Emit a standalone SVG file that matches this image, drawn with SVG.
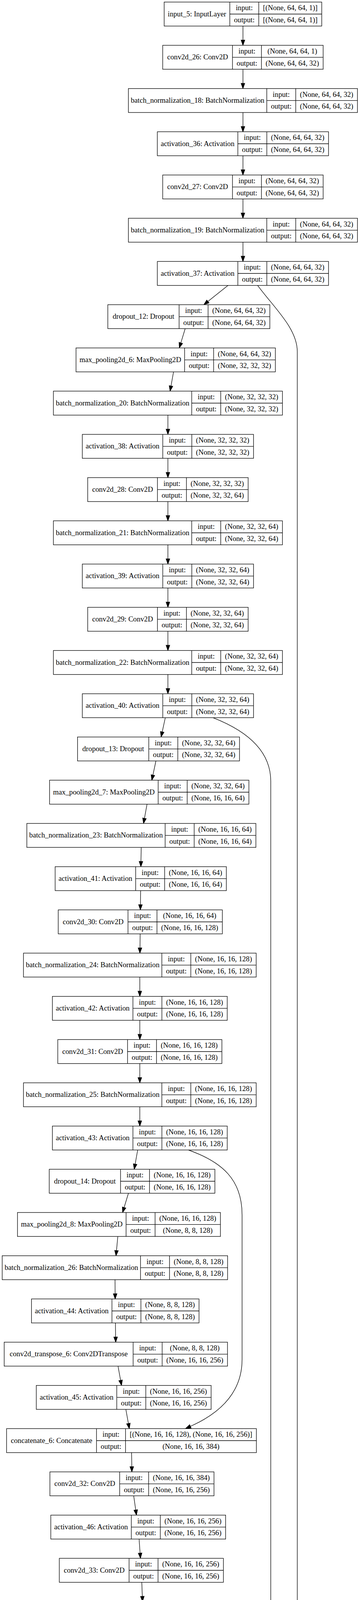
<svg xmlns="http://www.w3.org/2000/svg" width="933" height="6160" viewBox="0 0 933 6160">
<style>
.node rect{fill:#fff;stroke:#000;stroke-width:1.33}
.node path{fill:none;stroke:#000;stroke-width:1.33}
.node text{font-family:"Liberation Serif","Times New Roman",serif;font-size:18.67px;text-anchor:middle;fill:#000}
.edges path{fill:none;stroke:#000;stroke-width:1.33;marker-end:url(#ah)}
</style>
<defs>
<marker id="ah" viewBox="0 -6 15 12" refX="0" refY="0" markerWidth="15" markerHeight="12" orient="auto" markerUnits="userSpaceOnUse" overflow="visible">
<path d="M0,-4.67L13.33,0L0,4.67Z" fill="#000" stroke="#000" stroke-width="1.33"/>
</marker>
</defs>
<rect x="0" y="0" width="933" height="6160" fill="#fff"/>
<g id="edges" class="edges">
<path d="M622.7,66.67L622.7,102.67"/>
<path d="M622.7,177.33L622.7,213.33"/>
<path d="M622.7,288L622.7,324"/>
<path d="M622.7,398.67L622.7,434.67"/>
<path d="M622.7,509.33L622.7,545.33"/>
<path d="M622.7,620L622.7,656"/>
<path d="M584.3,730.7L532.9,771.7"/>
<path d="M474.7,841.3L463.5,877.9"/>
<path d="M444.8,952L438.3,988.2"/>
<path d="M430.4,1062.67L430.4,1098.67"/>
<path d="M430.4,1173.33L430.4,1209.33"/>
<path d="M430.4,1284L430.4,1320"/>
<path d="M430.4,1394.67L430.4,1430.67"/>
<path d="M430.4,1505.33L430.4,1541.33"/>
<path d="M430.4,1616L430.4,1652"/>
<path d="M430.4,1726.67L430.4,1762.67"/>
<path d="M423.7,1837.3L415.8,1873.6"/>
<path d="M399.7,1948L391.9,1984.3"/>
<path d="M376.9,2058.7L370.3,2094.9"/>
<path d="M361.9,2169.3L361.3,2205.3"/>
<path d="M360.5,2280L360,2316"/>
<path d="M359.3,2390.7L358.8,2426.7"/>
<path d="M358.4,2501.33L358.4,2537.33"/>
<path d="M358.4,2612L358.4,2648"/>
<path d="M358.4,2722.67L358.4,2758.67"/>
<path d="M358.4,2833.33L358.4,2869.33"/>
<path d="M352.9,2944L346.4,2980.2"/>
<path d="M329.2,3054.7L318.1,3091.3"/>
<path d="M302,3165.3L298.6,3201.4"/>
<path d="M294.8,3276L295.1,3312"/>
<path d="M295.8,3386.7L296.4,3422.7"/>
<path d="M302.5,3497.3L309.1,3533.6"/>
<path d="M322.6,3608L329.1,3644.2"/>
<path d="M337.3,3718.7L337.8,3754.7"/>
<path d="M342.7,3829.3L347.9,3865.5"/>
<path d="M356.5,3940L359.1,3976"/>
<path d="M363.4,4050.7L364.8,4086.7"/>
<path d="M367.1,4161.3L367.8,4197.3"/>
<path d="M369.2,4272L369.8,4308"/>
<path d="M375.8,4382.7L382.4,4418.9"/>
<path d="M395.6,4493.3L401.8,4529.5"/>
<path d="M413.4,4604L418.1,4640.1"/>
<path d="M425.7,4714.7L427.8,4750.7"/>
<path d="M431.5,4825.3L432.8,4861.3"/>
<path d="M434.6,4936L435.1,4972"/>
<path d="M435.8,5046.7L436.2,5082.7"/>
<path d="M437.1,5157.3L437.8,5193.3"/>
<path d="M447.7,5268L458.8,5304.6"/>
<path d="M512.2,5378.7L566.3,5419.9"/>
<path d="M617.1,5489.33L617.1,5525.33"/>
<path d="M617.1,5600L617.1,5636"/>
<path d="M617.1,5710.67L617.1,5746.67"/>
<path d="M617.1,5821.33L617.1,5857.33"/>
<path d="M617.1,5932L617.1,5968"/>
<path d="M617.1,6042.67L617.1,6078.67"/>
<path d="M660.3,730.7C700,785 762,840 762,900L762,5250C762,5320 718,5365 670.6,5417.7"/>
<path d="M546.1,1837.3C630,1870 694,1920 694,2000L694,4370C694,4440 640,4500 561.8,4536"/>
<path d="M483,2944C570,2975 620.5,3020 620.5,3110L620.5,3480C620.5,3560 570,3615 488,3651.5"/>
</g>
<g id="n0" class="node" transform="translate(420.75,5.33)"><rect width="403.9" height="61.33"/><path d="M168.3,0V61.33M242.6,0V61.33M168.3,30.67H403.9"/><text x="84.15" y="36.3">input_5: InputLayer</text><text x="205.45" y="20.9">input:</text><text x="205.45" y="51.6">output:</text><text x="323.25" y="20.9">[(None, 64, 64, 1)]</text><text x="323.25" y="51.6">[(None, 64, 64, 1)]</text></g>
<g id="n1" class="node" transform="translate(417.05,116)"><rect width="411.3" height="61.33"/><path d="M178.8,0V61.33M253.1,0V61.33M178.8,30.67H411.3"/><text x="89.4" y="36.3">conv2d_26: Conv2D</text><text x="215.95" y="20.9">input:</text><text x="215.95" y="51.6">output:</text><text x="332.2" y="20.9">(None, 64, 64, 1)</text><text x="332.2" y="51.6">(None, 64, 64, 32)</text></g>
<g id="n2" class="node" transform="translate(329.15,226.67)"><rect width="587.1" height="61.33"/><path d="M354.6,0V61.33M428.9,0V61.33M354.6,30.67H587.1"/><text x="177.3" y="36.3">batch_normalization_18: BatchNormalization</text><text x="391.75" y="20.9">input:</text><text x="391.75" y="51.6">output:</text><text x="508" y="20.9">(None, 64, 64, 32)</text><text x="508" y="51.6">(None, 64, 64, 32)</text></g>
<g id="n3" class="node" transform="translate(403.3,337.33)"><rect width="438.8" height="61.33"/><path d="M206.3,0V61.33M280.6,0V61.33M206.3,30.67H438.8"/><text x="103.15" y="36.3">activation_36: Activation</text><text x="243.45" y="20.9">input:</text><text x="243.45" y="51.6">output:</text><text x="359.7" y="20.9">(None, 64, 64, 32)</text><text x="359.7" y="51.6">(None, 64, 64, 32)</text></g>
<g id="n4" class="node" transform="translate(417.05,448)"><rect width="411.3" height="61.33"/><path d="M178.8,0V61.33M253.1,0V61.33M178.8,30.67H411.3"/><text x="89.4" y="36.3">conv2d_27: Conv2D</text><text x="215.95" y="20.9">input:</text><text x="215.95" y="51.6">output:</text><text x="332.2" y="20.9">(None, 64, 64, 32)</text><text x="332.2" y="51.6">(None, 64, 64, 32)</text></g>
<g id="n5" class="node" transform="translate(329.15,558.67)"><rect width="587.1" height="61.33"/><path d="M354.6,0V61.33M428.9,0V61.33M354.6,30.67H587.1"/><text x="177.3" y="36.3">batch_normalization_19: BatchNormalization</text><text x="391.75" y="20.9">input:</text><text x="391.75" y="51.6">output:</text><text x="508" y="20.9">(None, 64, 64, 32)</text><text x="508" y="51.6">(None, 64, 64, 32)</text></g>
<g id="n6" class="node" transform="translate(403.3,669.33)"><rect width="438.8" height="61.33"/><path d="M206.3,0V61.33M280.6,0V61.33M206.3,30.67H438.8"/><text x="103.15" y="36.3">activation_37: Activation</text><text x="243.45" y="20.9">input:</text><text x="243.45" y="51.6">output:</text><text x="359.7" y="20.9">(None, 64, 64, 32)</text><text x="359.7" y="51.6">(None, 64, 64, 32)</text></g>
<g id="n7" class="node" transform="translate(276.4,780)"><rect width="415.2" height="61.33"/><path d="M182.7,0V61.33M257,0V61.33M182.7,30.67H415.2"/><text x="91.35" y="36.3">dropout_12: Dropout</text><text x="219.85" y="20.9">input:</text><text x="219.85" y="51.6">output:</text><text x="336.1" y="20.9">(None, 64, 64, 32)</text><text x="336.1" y="51.6">(None, 64, 64, 32)</text></g>
<g id="n8" class="node" transform="translate(194.85,890.67)"><rect width="510.9" height="61.33"/><path d="M278.4,0V61.33M352.7,0V61.33M278.4,30.67H510.9"/><text x="139.2" y="36.3">max_pooling2d_6: MaxPooling2D</text><text x="315.55" y="20.9">input:</text><text x="315.55" y="51.6">output:</text><text x="431.8" y="20.9">(None, 64, 64, 32)</text><text x="431.8" y="51.6">(None, 32, 32, 32)</text></g>
<g id="n9" class="node" transform="translate(136.85,1001.33)"><rect width="587.1" height="61.33"/><path d="M354.6,0V61.33M428.9,0V61.33M354.6,30.67H587.1"/><text x="177.3" y="36.3">batch_normalization_20: BatchNormalization</text><text x="391.75" y="20.9">input:</text><text x="391.75" y="51.6">output:</text><text x="508" y="20.9">(None, 32, 32, 32)</text><text x="508" y="51.6">(None, 32, 32, 32)</text></g>
<g id="n10" class="node" transform="translate(211,1112)"><rect width="438.8" height="61.33"/><path d="M206.3,0V61.33M280.6,0V61.33M206.3,30.67H438.8"/><text x="103.15" y="36.3">activation_38: Activation</text><text x="243.45" y="20.9">input:</text><text x="243.45" y="51.6">output:</text><text x="359.7" y="20.9">(None, 32, 32, 32)</text><text x="359.7" y="51.6">(None, 32, 32, 32)</text></g>
<g id="n11" class="node" transform="translate(224.75,1222.67)"><rect width="411.3" height="61.33"/><path d="M178.8,0V61.33M253.1,0V61.33M178.8,30.67H411.3"/><text x="89.4" y="36.3">conv2d_28: Conv2D</text><text x="215.95" y="20.9">input:</text><text x="215.95" y="51.6">output:</text><text x="332.2" y="20.9">(None, 32, 32, 32)</text><text x="332.2" y="51.6">(None, 32, 32, 64)</text></g>
<g id="n12" class="node" transform="translate(136.85,1333.33)"><rect width="587.1" height="61.33"/><path d="M354.6,0V61.33M428.9,0V61.33M354.6,30.67H587.1"/><text x="177.3" y="36.3">batch_normalization_21: BatchNormalization</text><text x="391.75" y="20.9">input:</text><text x="391.75" y="51.6">output:</text><text x="508" y="20.9">(None, 32, 32, 64)</text><text x="508" y="51.6">(None, 32, 32, 64)</text></g>
<g id="n13" class="node" transform="translate(211,1444)"><rect width="438.8" height="61.33"/><path d="M206.3,0V61.33M280.6,0V61.33M206.3,30.67H438.8"/><text x="103.15" y="36.3">activation_39: Activation</text><text x="243.45" y="20.9">input:</text><text x="243.45" y="51.6">output:</text><text x="359.7" y="20.9">(None, 32, 32, 64)</text><text x="359.7" y="51.6">(None, 32, 32, 64)</text></g>
<g id="n14" class="node" transform="translate(224.75,1554.67)"><rect width="411.3" height="61.33"/><path d="M178.8,0V61.33M253.1,0V61.33M178.8,30.67H411.3"/><text x="89.4" y="36.3">conv2d_29: Conv2D</text><text x="215.95" y="20.9">input:</text><text x="215.95" y="51.6">output:</text><text x="332.2" y="20.9">(None, 32, 32, 64)</text><text x="332.2" y="51.6">(None, 32, 32, 64)</text></g>
<g id="n15" class="node" transform="translate(136.85,1665.33)"><rect width="587.1" height="61.33"/><path d="M354.6,0V61.33M428.9,0V61.33M354.6,30.67H587.1"/><text x="177.3" y="36.3">batch_normalization_22: BatchNormalization</text><text x="391.75" y="20.9">input:</text><text x="391.75" y="51.6">output:</text><text x="508" y="20.9">(None, 32, 32, 64)</text><text x="508" y="51.6">(None, 32, 32, 64)</text></g>
<g id="n16" class="node" transform="translate(211,1776)"><rect width="438.8" height="61.33"/><path d="M206.3,0V61.33M280.6,0V61.33M206.3,30.67H438.8"/><text x="103.15" y="36.3">activation_40: Activation</text><text x="243.45" y="20.9">input:</text><text x="243.45" y="51.6">output:</text><text x="359.7" y="20.9">(None, 32, 32, 64)</text><text x="359.7" y="51.6">(None, 32, 32, 64)</text></g>
<g id="n17" class="node" transform="translate(198.7,1886.67)"><rect width="415.2" height="61.33"/><path d="M182.7,0V61.33M257,0V61.33M182.7,30.67H415.2"/><text x="91.35" y="36.3">dropout_13: Dropout</text><text x="219.85" y="20.9">input:</text><text x="219.85" y="51.6">output:</text><text x="336.1" y="20.9">(None, 32, 32, 64)</text><text x="336.1" y="51.6">(None, 32, 32, 64)</text></g>
<g id="n18" class="node" transform="translate(127.05,1997.33)"><rect width="510.9" height="61.33"/><path d="M278.4,0V61.33M352.7,0V61.33M278.4,30.67H510.9"/><text x="139.2" y="36.3">max_pooling2d_7: MaxPooling2D</text><text x="315.55" y="20.9">input:</text><text x="315.55" y="51.6">output:</text><text x="431.8" y="20.9">(None, 32, 32, 64)</text><text x="431.8" y="51.6">(None, 16, 16, 64)</text></g>
<g id="n19" class="node" transform="translate(68.75,2108)"><rect width="587.1" height="61.33"/><path d="M354.6,0V61.33M428.9,0V61.33M354.6,30.67H587.1"/><text x="177.3" y="36.3">batch_normalization_23: BatchNormalization</text><text x="391.75" y="20.9">input:</text><text x="391.75" y="51.6">output:</text><text x="508" y="20.9">(None, 16, 16, 64)</text><text x="508" y="51.6">(None, 16, 16, 64)</text></g>
<g id="n20" class="node" transform="translate(141.4,2218.67)"><rect width="438.8" height="61.33"/><path d="M206.3,0V61.33M280.6,0V61.33M206.3,30.67H438.8"/><text x="103.15" y="36.3">activation_41: Activation</text><text x="243.45" y="20.9">input:</text><text x="243.45" y="51.6">output:</text><text x="359.7" y="20.9">(None, 16, 16, 64)</text><text x="359.7" y="51.6">(None, 16, 16, 64)</text></g>
<g id="n21" class="node" transform="translate(149.3,2329.33)"><rect width="420.6" height="61.33"/><path d="M178.8,0V61.33M253.1,0V61.33M178.8,30.67H420.6"/><text x="89.4" y="36.3">conv2d_30: Conv2D</text><text x="215.95" y="20.9">input:</text><text x="215.95" y="51.6">output:</text><text x="336.85" y="20.9">(None, 16, 16, 64)</text><text x="336.85" y="51.6">(None, 16, 16, 128)</text></g>
<g id="n22" class="node" transform="translate(60.2,2440)"><rect width="596.4" height="61.33"/><path d="M354.6,0V61.33M428.9,0V61.33M354.6,30.67H596.4"/><text x="177.3" y="36.3">batch_normalization_24: BatchNormalization</text><text x="391.75" y="20.9">input:</text><text x="391.75" y="51.6">output:</text><text x="512.65" y="20.9">(None, 16, 16, 128)</text><text x="512.65" y="51.6">(None, 16, 16, 128)</text></g>
<g id="n23" class="node" transform="translate(134.35,2550.67)"><rect width="448.1" height="61.33"/><path d="M206.3,0V61.33M280.6,0V61.33M206.3,30.67H448.1"/><text x="103.15" y="36.3">activation_42: Activation</text><text x="243.45" y="20.9">input:</text><text x="243.45" y="51.6">output:</text><text x="364.35" y="20.9">(None, 16, 16, 128)</text><text x="364.35" y="51.6">(None, 16, 16, 128)</text></g>
<g id="n24" class="node" transform="translate(148.1,2661.33)"><rect width="420.6" height="61.33"/><path d="M178.8,0V61.33M253.1,0V61.33M178.8,30.67H420.6"/><text x="89.4" y="36.3">conv2d_31: Conv2D</text><text x="215.95" y="20.9">input:</text><text x="215.95" y="51.6">output:</text><text x="336.85" y="20.9">(None, 16, 16, 128)</text><text x="336.85" y="51.6">(None, 16, 16, 128)</text></g>
<g id="n25" class="node" transform="translate(60.2,2772)"><rect width="596.4" height="61.33"/><path d="M354.6,0V61.33M428.9,0V61.33M354.6,30.67H596.4"/><text x="177.3" y="36.3">batch_normalization_25: BatchNormalization</text><text x="391.75" y="20.9">input:</text><text x="391.75" y="51.6">output:</text><text x="512.65" y="20.9">(None, 16, 16, 128)</text><text x="512.65" y="51.6">(None, 16, 16, 128)</text></g>
<g id="n26" class="node" transform="translate(134.35,2882.67)"><rect width="448.1" height="61.33"/><path d="M206.3,0V61.33M280.6,0V61.33M206.3,30.67H448.1"/><text x="103.15" y="36.3">activation_43: Activation</text><text x="243.45" y="20.9">input:</text><text x="243.45" y="51.6">output:</text><text x="364.35" y="20.9">(None, 16, 16, 128)</text><text x="364.35" y="51.6">(None, 16, 16, 128)</text></g>
<g id="n27" class="node" transform="translate(126.25,2993.33)"><rect width="424.5" height="61.33"/><path d="M182.7,0V61.33M257,0V61.33M182.7,30.67H424.5"/><text x="91.35" y="36.3">dropout_14: Dropout</text><text x="219.85" y="20.9">input:</text><text x="219.85" y="51.6">output:</text><text x="340.75" y="20.9">(None, 16, 16, 128)</text><text x="340.75" y="51.6">(None, 16, 16, 128)</text></g>
<g id="n28" class="node" transform="translate(44.8,3104)"><rect width="520.2" height="61.33"/><path d="M278.4,0V61.33M352.7,0V61.33M278.4,30.67H520.2"/><text x="139.2" y="36.3">max_pooling2d_8: MaxPooling2D</text><text x="315.55" y="20.9">input:</text><text x="315.55" y="51.6">output:</text><text x="436.45" y="20.9">(None, 16, 16, 128)</text><text x="436.45" y="51.6">(None, 8, 8, 128)</text></g>
<g id="n29" class="node" transform="translate(5.6,3214.67)"><rect width="577.8" height="61.33"/><path d="M354.6,0V61.33M428.9,0V61.33M354.6,30.67H577.8"/><text x="177.3" y="36.3">batch_normalization_26: BatchNormalization</text><text x="391.75" y="20.9">input:</text><text x="391.75" y="51.6">output:</text><text x="503.35" y="20.9">(None, 8, 8, 128)</text><text x="503.35" y="51.6">(None, 8, 8, 128)</text></g>
<g id="n30" class="node" transform="translate(80.65,3325.33)"><rect width="429.5" height="61.33"/><path d="M206.3,0V61.33M280.6,0V61.33M206.3,30.67H429.5"/><text x="103.15" y="36.3">activation_44: Activation</text><text x="243.45" y="20.9">input:</text><text x="243.45" y="51.6">output:</text><text x="355.05" y="20.9">(None, 8, 8, 128)</text><text x="355.05" y="51.6">(None, 8, 8, 128)</text></g>
<g id="n31" class="node" transform="translate(10.7,3436)"><rect width="572.4" height="61.33"/><path d="M330.6,0V61.33M404.9,0V61.33M330.6,30.67H572.4"/><text x="165.3" y="36.3">conv2d_transpose_6: Conv2DTranspose</text><text x="367.75" y="20.9">input:</text><text x="367.75" y="51.6">output:</text><text x="488.65" y="20.9">(None, 8, 8, 128)</text><text x="488.65" y="51.6">(None, 16, 16, 256)</text></g>
<g id="n32" class="node" transform="translate(93.05,3546.67)"><rect width="448.1" height="61.33"/><path d="M206.3,0V61.33M280.6,0V61.33M206.3,30.67H448.1"/><text x="103.15" y="36.3">activation_45: Activation</text><text x="243.45" y="20.9">input:</text><text x="243.45" y="51.6">output:</text><text x="364.35" y="20.9">(None, 16, 16, 256)</text><text x="364.35" y="51.6">(None, 16, 16, 256)</text></g>
<g id="n33" class="node" transform="translate(16.8,3657.33)"><rect width="640.4" height="61.33"/><path d="M230.6,0V61.33M304.9,0V61.33M230.6,30.67H640.4"/><text x="115.3" y="36.3">concatenate_6: Concatenate</text><text x="267.75" y="20.9">input:</text><text x="267.75" y="51.6">output:</text><text x="472.65" y="20.9">[(None, 16, 16, 128), (None, 16, 16, 256)]</text><text x="472.65" y="51.6">(None, 16, 16, 384)</text></g>
<g id="n34" class="node" transform="translate(127.9,3768)"><rect width="420.6" height="61.33"/><path d="M178.8,0V61.33M253.1,0V61.33M178.8,30.67H420.6"/><text x="89.4" y="36.3">conv2d_32: Conv2D</text><text x="215.95" y="20.9">input:</text><text x="215.95" y="51.6">output:</text><text x="336.85" y="20.9">(None, 16, 16, 384)</text><text x="336.85" y="51.6">(None, 16, 16, 256)</text></g>
<g id="n35" class="node" transform="translate(130.25,3878.67)"><rect width="448.1" height="61.33"/><path d="M206.3,0V61.33M280.6,0V61.33M206.3,30.67H448.1"/><text x="103.15" y="36.3">activation_46: Activation</text><text x="243.45" y="20.9">input:</text><text x="243.45" y="51.6">output:</text><text x="364.35" y="20.9">(None, 16, 16, 256)</text><text x="364.35" y="51.6">(None, 16, 16, 256)</text></g>
<g id="n36" class="node" transform="translate(152,3989.33)"><rect width="420.6" height="61.33"/><path d="M178.8,0V61.33M253.1,0V61.33M178.8,30.67H420.6"/><text x="89.4" y="36.3">conv2d_33: Conv2D</text><text x="215.95" y="20.9">input:</text><text x="215.95" y="51.6">output:</text><text x="336.85" y="20.9">(None, 16, 16, 256)</text><text x="336.85" y="51.6">(None, 16, 16, 256)</text></g>
<g id="n37" class="node" transform="translate(142.35,4100)"><rect width="448.1" height="61.33"/><path d="M206.3,0V61.33M280.6,0V61.33M206.3,30.67H448.1"/><text x="103.15" y="36.3">activation_47: Activation</text><text x="243.45" y="20.9">input:</text><text x="243.45" y="51.6">output:</text><text x="364.35" y="20.9">(None, 16, 16, 256)</text><text x="364.35" y="51.6">(None, 16, 16, 256)</text></g>
<g id="n38" class="node" transform="translate(156.55,4210.67)"><rect width="424.5" height="61.33"/><path d="M182.7,0V61.33M257,0V61.33M182.7,30.67H424.5"/><text x="91.35" y="36.3">dropout_15: Dropout</text><text x="219.85" y="20.9">input:</text><text x="219.85" y="51.6">output:</text><text x="340.75" y="20.9">(None, 16, 16, 256)</text><text x="340.75" y="51.6">(None, 16, 16, 256)</text></g>
<g id="n39" class="node" transform="translate(84.1,4321.33)"><rect width="572.4" height="61.33"/><path d="M330.6,0V61.33M404.9,0V61.33M330.6,30.67H572.4"/><text x="165.3" y="36.3">conv2d_transpose_7: Conv2DTranspose</text><text x="367.75" y="20.9">input:</text><text x="367.75" y="51.6">output:</text><text x="488.65" y="20.9">(None, 16, 16, 256)</text><text x="488.65" y="51.6">(None, 32, 32, 128)</text></g>
<g id="n40" class="node" transform="translate(166.25,4432)"><rect width="448.1" height="61.33"/><path d="M206.3,0V61.33M280.6,0V61.33M206.3,30.67H448.1"/><text x="103.15" y="36.3">activation_48: Activation</text><text x="243.45" y="20.9">input:</text><text x="243.45" y="51.6">output:</text><text x="364.35" y="20.9">(None, 32, 32, 128)</text><text x="364.35" y="51.6">(None, 32, 32, 128)</text></g>
<g id="n41" class="node" transform="translate(93.75,4542.67)"><rect width="631.1" height="61.33"/><path d="M230.6,0V61.33M304.9,0V61.33M230.6,30.67H631.1"/><text x="115.3" y="36.3">concatenate_7: Concatenate</text><text x="267.75" y="20.9">input:</text><text x="267.75" y="51.6">output:</text><text x="468" y="20.9">[(None, 32, 32, 64), (None, 32, 32, 128)]</text><text x="468" y="51.6">(None, 32, 32, 192)</text></g>
<g id="n42" class="node" transform="translate(213.6,4653.33)"><rect width="420.6" height="61.33"/><path d="M178.8,0V61.33M253.1,0V61.33M178.8,30.67H420.6"/><text x="89.4" y="36.3">conv2d_34: Conv2D</text><text x="215.95" y="20.9">input:</text><text x="215.95" y="51.6">output:</text><text x="336.85" y="20.9">(None, 32, 32, 192)</text><text x="336.85" y="51.6">(None, 32, 32, 128)</text></g>
<g id="n43" class="node" transform="translate(206.35,4764)"><rect width="448.1" height="61.33"/><path d="M206.3,0V61.33M280.6,0V61.33M206.3,30.67H448.1"/><text x="103.15" y="36.3">activation_49: Activation</text><text x="243.45" y="20.9">input:</text><text x="243.45" y="51.6">output:</text><text x="364.35" y="20.9">(None, 32, 32, 128)</text><text x="364.35" y="51.6">(None, 32, 32, 128)</text></g>
<g id="n44" class="node" transform="translate(224,4874.67)"><rect width="420.6" height="61.33"/><path d="M178.8,0V61.33M253.1,0V61.33M178.8,30.67H420.6"/><text x="89.4" y="36.3">conv2d_35: Conv2D</text><text x="215.95" y="20.9">input:</text><text x="215.95" y="51.6">output:</text><text x="336.85" y="20.9">(None, 32, 32, 128)</text><text x="336.85" y="51.6">(None, 32, 32, 128)</text></g>
<g id="n45" class="node" transform="translate(211.45,4985.33)"><rect width="448.1" height="61.33"/><path d="M206.3,0V61.33M280.6,0V61.33M206.3,30.67H448.1"/><text x="103.15" y="36.3">activation_50: Activation</text><text x="243.45" y="20.9">input:</text><text x="243.45" y="51.6">output:</text><text x="364.35" y="20.9">(None, 32, 32, 128)</text><text x="364.35" y="51.6">(None, 32, 32, 128)</text></g>
<g id="n46" class="node" transform="translate(224.35,5096)"><rect width="424.5" height="61.33"/><path d="M182.7,0V61.33M257,0V61.33M182.7,30.67H424.5"/><text x="91.35" y="36.3">dropout_16: Dropout</text><text x="219.85" y="20.9">input:</text><text x="219.85" y="51.6">output:</text><text x="340.75" y="20.9">(None, 32, 32, 128)</text><text x="340.75" y="51.6">(None, 32, 32, 128)</text></g>
<g id="n47" class="node" transform="translate(152.2,5206.67)"><rect width="572.4" height="61.33"/><path d="M330.6,0V61.33M404.9,0V61.33M330.6,30.67H572.4"/><text x="165.3" y="36.3">conv2d_transpose_8: Conv2DTranspose</text><text x="367.75" y="20.9">input:</text><text x="367.75" y="51.6">output:</text><text x="488.65" y="20.9">(None, 32, 32, 128)</text><text x="488.65" y="51.6">(None, 64, 64, 64)</text></g>
<g id="n48" class="node" transform="translate(252.6,5317.33)"><rect width="438.8" height="61.33"/><path d="M206.3,0V61.33M280.6,0V61.33M206.3,30.67H438.8"/><text x="103.15" y="36.3">activation_51: Activation</text><text x="243.45" y="20.9">input:</text><text x="243.45" y="51.6">output:</text><text x="359.7" y="20.9">(None, 64, 64, 64)</text><text x="359.7" y="51.6">(None, 64, 64, 64)</text></g>
<g id="n49" class="node" transform="translate(306.35,5428)"><rect width="621.7" height="61.33"/><path d="M230.6,0V61.33M304.9,0V61.33M230.6,30.67H621.7"/><text x="115.3" y="36.3">concatenate_8: Concatenate</text><text x="267.75" y="20.9">input:</text><text x="267.75" y="51.6">output:</text><text x="463.3" y="20.9">[(None, 64, 64, 32), (None, 64, 64, 64)]</text><text x="463.3" y="51.6">(None, 64, 64, 96)</text></g>
<g id="n50" class="node" transform="translate(411.45,5538.67)"><rect width="411.3" height="61.33"/><path d="M178.8,0V61.33M253.1,0V61.33M178.8,30.67H411.3"/><text x="89.4" y="36.3">conv2d_36: Conv2D</text><text x="215.95" y="20.9">input:</text><text x="215.95" y="51.6">output:</text><text x="332.2" y="20.9">(None, 64, 64, 96)</text><text x="332.2" y="51.6">(None, 64, 64, 64)</text></g>
<g id="n51" class="node" transform="translate(397.7,5649.33)"><rect width="438.8" height="61.33"/><path d="M206.3,0V61.33M280.6,0V61.33M206.3,30.67H438.8"/><text x="103.15" y="36.3">activation_52: Activation</text><text x="243.45" y="20.9">input:</text><text x="243.45" y="51.6">output:</text><text x="359.7" y="20.9">(None, 64, 64, 64)</text><text x="359.7" y="51.6">(None, 64, 64, 64)</text></g>
<g id="n52" class="node" transform="translate(411.45,5760)"><rect width="411.3" height="61.33"/><path d="M178.8,0V61.33M253.1,0V61.33M178.8,30.67H411.3"/><text x="89.4" y="36.3">conv2d_37: Conv2D</text><text x="215.95" y="20.9">input:</text><text x="215.95" y="51.6">output:</text><text x="332.2" y="20.9">(None, 64, 64, 64)</text><text x="332.2" y="51.6">(None, 64, 64, 64)</text></g>
<g id="n53" class="node" transform="translate(397.7,5870.67)"><rect width="438.8" height="61.33"/><path d="M206.3,0V61.33M280.6,0V61.33M206.3,30.67H438.8"/><text x="103.15" y="36.3">activation_53: Activation</text><text x="243.45" y="20.9">input:</text><text x="243.45" y="51.6">output:</text><text x="359.7" y="20.9">(None, 64, 64, 64)</text><text x="359.7" y="51.6">(None, 64, 64, 64)</text></g>
<g id="n54" class="node" transform="translate(409.5,5981.33)"><rect width="415.2" height="61.33"/><path d="M182.7,0V61.33M257,0V61.33M182.7,30.67H415.2"/><text x="91.35" y="36.3">dropout_17: Dropout</text><text x="219.85" y="20.9">input:</text><text x="219.85" y="51.6">output:</text><text x="336.1" y="20.9">(None, 64, 64, 64)</text><text x="336.1" y="51.6">(None, 64, 64, 64)</text></g>
<g id="n55" class="node" transform="translate(411.45,6092)"><rect width="411.3" height="61.33"/><path d="M178.8,0V61.33M253.1,0V61.33M178.8,30.67H411.3"/><text x="89.4" y="36.3">conv2d_38: Conv2D</text><text x="215.95" y="20.9">input:</text><text x="215.95" y="51.6">output:</text><text x="332.2" y="20.9">(None, 64, 64, 64)</text><text x="332.2" y="51.6">(None, 64, 64, 3)</text></g>
</svg>
